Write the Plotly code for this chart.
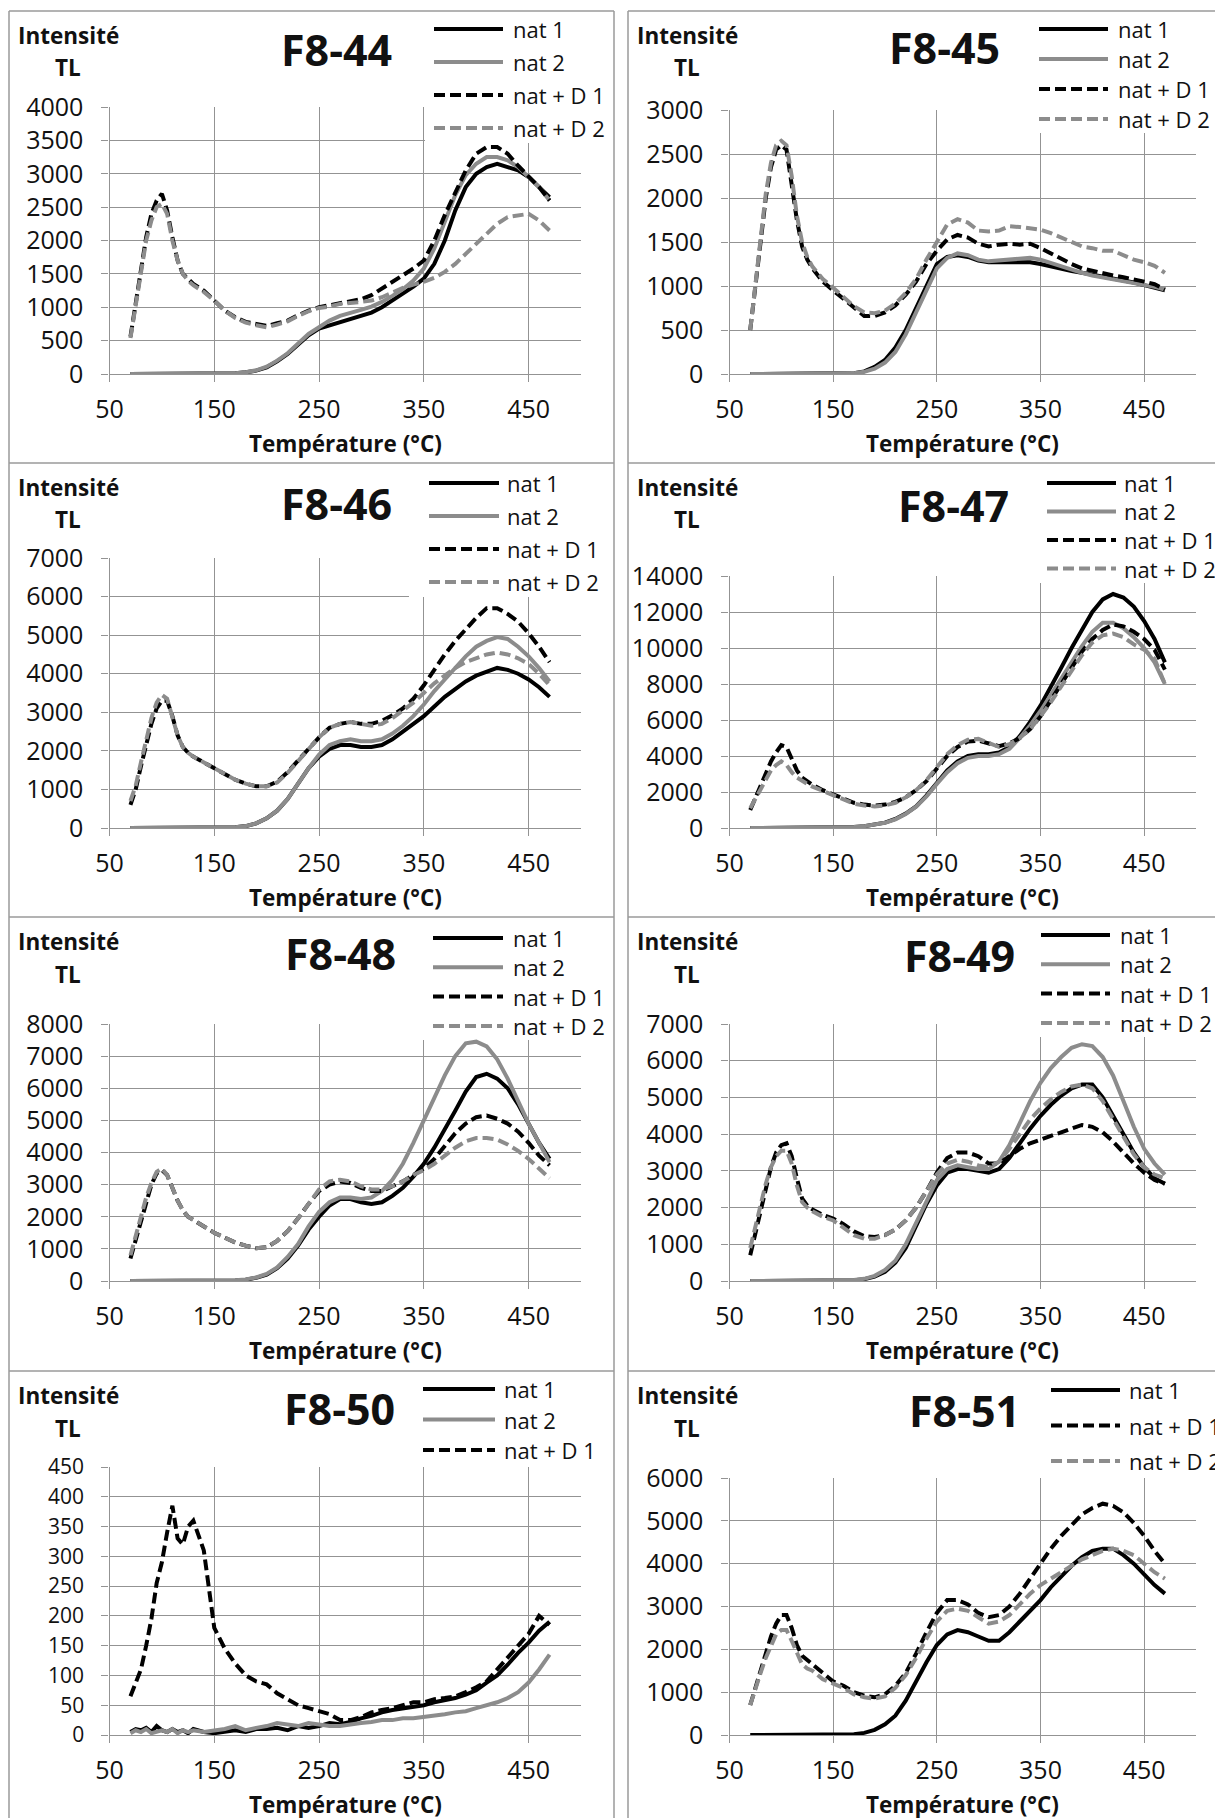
import plotly.graph_objects as go

# ---------------------------------------------------------------- data
TEMP = [70, 75, 80, 85, 90, 95, 100, 105, 110, 115, 120, 125, 130,
        140, 150, 160, 170, 180, 190, 200, 210, 220, 230, 240, 250,
        260, 270, 280, 290, 300, 310, 320, 330, 340, 350, 360, 370,
        380, 390, 400, 410, 420, 430, 440, 450, 460, 470]

SERIES_NAMES = ["nat 1", "nat 2", "nat + D 1", "nat + D 2"]
PANEL_TITLES = ["F8-44", "F8-45", "F8-46", "F8-47", "F8-48", "F8-49", "F8-50", "F8-51"]
Y_MAX = [4000, 3000, 7000, 14000, 8000, 7000, 450, 6000]
Y_STEP = [500, 500, 1000, 2000, 1000, 1000, 50, 1000]
X_TICKS = [50, 150, 250, 350, 450]
Y_TITLE = ["Intensité", "TL"]
X_TITLE = "Température (°C)"

F8_44_NAT1 = [0, 0, 0, 0, 0, 0, 0, 0, 0, 0, 0, 0, 0, 0, 0, 5, 10, 25, 50, 100, 190, 300, 440, 580, 680,
              730, 780, 830, 870, 920, 1000, 1100, 1200, 1310, 1430, 1650, 2000, 2450, 2800, 3000, 3100,
              3150, 3100, 3050, 2950, 2800, 2650]
F8_44_NAT2 = [0, 0, 0, 0, 0, 0, 0, 0, 0, 0, 0, 0, 0, 0, 0, 0, 10, 25, 55, 110, 200, 310, 450, 600, 700,
              800, 870, 910, 960, 1010, 1080, 1170, 1270, 1400, 1580, 1880, 2280, 2680, 2980, 3150, 3250,
              3250, 3200, 3100, 2950, 2800, 2600]
F8_44_D1 = [560, 1050, 1550, 2050, 2400, 2600, 2700, 2450, 2050, 1700, 1500, 1420, 1350, 1250, 1100, 950,
            850, 780, 750, 720, 760, 800, 880, 950, 1000, 1030, 1070, 1100, 1120, 1180, 1280, 1380, 1480,
            1580, 1700, 2000, 2380, 2700, 3050, 3300, 3400, 3400, 3300, 3120, 2950, 2800, 2600]
F8_44_D2 = [540, 1000, 1500, 2000, 2300, 2500, 2550, 2400, 2000, 1700, 1500, 1400, 1330, 1230, 1100, 950,
            840, 770, 730, 700, 740, 790, 870, 940, 990, 1010, 1050, 1060, 1080, 1100, 1150, 1220, 1290,
            1340, 1380, 1440, 1530, 1650, 1800, 1950, 2100, 2250, 2350, 2380, 2400, 2300, 2150]

F8_45_NAT1 = [0, 0, 0, 0, 0, 0, 0, 0, 0, 0, 0, 0, 0, 0, 0, 0, 10, 30, 80, 160, 300, 500, 750, 1000, 1250,
              1330, 1350, 1330, 1290, 1270, 1270, 1280, 1280, 1270, 1250, 1220, 1200, 1170, 1150, 1130,
              1100, 1080, 1060, 1040, 1010, 980, 950]
F8_45_NAT2 = [0, 0, 0, 0, 0, 0, 0, 0, 0, 0, 0, 0, 0, 0, 0, 0, 10, 25, 60, 130, 250, 450, 700, 950, 1200,
              1320, 1370, 1350, 1300, 1280, 1290, 1300, 1310, 1320, 1300, 1260, 1220, 1180, 1150, 1120,
              1100, 1080, 1060, 1040, 1020, 990, 960]
F8_45_D1 = [500, 1000, 1500, 2000, 2350, 2550, 2600, 2550, 2150, 1750, 1450, 1300, 1200, 1050, 950, 850,
            750, 660, 660, 700, 780, 900, 1050, 1250, 1400, 1530, 1580, 1550, 1480, 1450, 1470, 1480,
            1470, 1480, 1430, 1370, 1300, 1250, 1200, 1170, 1150, 1120, 1100, 1080, 1050, 1020, 960]
F8_45_D2 = [500, 1000, 1550, 2050, 2400, 2600, 2650, 2600, 2250, 1800, 1500, 1330, 1220, 1080, 980, 870,
            770, 700, 690, 720, 800, 920, 1080, 1300, 1500, 1700, 1760, 1720, 1630, 1620, 1630, 1680,
            1670, 1660, 1640, 1600, 1550, 1500, 1450, 1430, 1400, 1400, 1350, 1300, 1270, 1230, 1150]

F8_46_NAT1 = [0, 0, 0, 0, 0, 0, 0, 0, 0, 0, 0, 0, 0, 0, 0, 0, 20, 50, 120, 250, 450, 750, 1150, 1550,
              1850, 2050, 2150, 2150, 2100, 2100, 2150, 2300, 2500, 2700, 2900, 3150, 3400, 3600, 3800,
              3950, 4050, 4150, 4100, 4000, 3850, 3650, 3400]
F8_46_NAT2 = [0, 0, 0, 0, 0, 0, 0, 0, 0, 0, 0, 0, 0, 0, 0, 0, 20, 50, 120, 250, 450, 750, 1150, 1550,
              1900, 2150, 2250, 2300, 2250, 2250, 2300, 2450, 2650, 2900, 3200, 3550, 3850, 4150, 4450,
              4700, 4850, 4950, 4900, 4700, 4450, 4150, 3800]
F8_46_D1 = [600, 1000, 1600, 2200, 2700, 3100, 3300, 3300, 2900, 2400, 2100, 1950, 1850, 1700, 1550, 1400,
            1250, 1150, 1080, 1080, 1200, 1450, 1750, 2050, 2350, 2600, 2700, 2750, 2700, 2700, 2780,
            2920, 3100, 3350, 3700, 4100, 4500, 4850, 5150, 5450, 5700, 5700, 5550, 5350, 5050, 4700, 4300]
F8_46_D2 = [700, 1100, 1700, 2300, 2850, 3250, 3450, 3350, 2900, 2400, 2100, 1950, 1850, 1700, 1550, 1400,
            1250, 1150, 1080, 1080, 1180, 1430, 1730, 2050, 2350, 2600, 2700, 2750, 2700, 2650, 2700,
            2850, 3050, 3250, 3500, 3750, 3950, 4150, 4300, 4400, 4500, 4550, 4500, 4400, 4250, 4000, 3700]

F8_47_NAT1 = [0, 0, 0, 0, 0, 0, 0, 0, 0, 0, 0, 0, 0, 0, 0, 20, 50, 100, 200, 300, 500, 800, 1200, 1800,
              2500, 3200, 3700, 4000, 4100, 4100, 4200, 4500, 5100, 5900, 6800, 7800, 8900, 10000, 11000,
              12000, 12700, 13000, 12800, 12300, 11500, 10500, 9200]
F8_47_NAT2 = [0, 0, 0, 0, 0, 0, 0, 0, 0, 0, 0, 0, 0, 0, 0, 20, 50, 100, 190, 290, 480, 780, 1180, 1750,
              2450, 3100, 3600, 3900, 4000, 4000, 4100, 4400, 5000, 5700, 6500, 7400, 8400, 9300, 10100,
              10900, 11400, 11400, 11100, 10600, 10000, 9200, 8000]
F8_47_D1 = [1000, 1700, 2400, 3100, 3700, 4200, 4600, 4500, 3900, 3200, 2800, 2600, 2400, 2100, 1850, 1600,
            1400, 1300, 1250, 1300, 1450, 1700, 2100, 2600, 3300, 4000, 4500, 4800, 4850, 4700, 4550, 4700,
            5000, 5500, 6200, 7100, 8000, 9000, 9800, 10500, 11000, 11300, 11200, 10900, 10500, 9900, 8800]
F8_47_D2 = [1100, 1600, 2200, 2700, 3200, 3500, 3700, 3500, 3100, 2800, 2600, 2450, 2300, 2050, 1800, 1550,
            1350, 1250, 1200, 1250, 1400, 1700, 2100, 2650, 3400, 4100, 4600, 4900, 4950, 4700, 4500, 4650,
            5000, 5500, 6200, 7000, 7900, 8800, 9600, 10300, 10700, 10800, 10600, 10200, 9900, 9400, 8000]

F8_48_NAT1 = [0, 0, 0, 0, 0, 0, 0, 0, 0, 0, 0, 0, 0, 0, 0, 0, 15, 40, 100, 200, 400, 700, 1100, 1600,
              2000, 2350, 2550, 2550, 2450, 2400, 2450, 2650, 2900, 3250, 3650, 4150, 4700, 5300, 5900,
              6350, 6450, 6300, 6000, 5500, 4900, 4300, 3800]
F8_48_NAT2 = [0, 0, 0, 0, 0, 0, 0, 0, 0, 0, 0, 0, 0, 0, 0, 0, 20, 50, 110, 220, 420, 750, 1150, 1700,
              2150, 2450, 2600, 2600, 2550, 2600, 2800, 3150, 3650, 4300, 5000, 5700, 6400, 7000, 7400,
              7450, 7300, 6900, 6300, 5600, 4900, 4300, 3700]
F8_48_D1 = [700, 1300, 1900, 2500, 3000, 3350, 3450, 3300, 2900, 2500, 2200, 2000, 1900, 1700, 1500, 1350,
            1200, 1100, 1020, 1050, 1250, 1550, 1950, 2400, 2800, 3000, 3100, 3050, 2900, 2800, 2800, 2950,
            3100, 3300, 3500, 3800, 4200, 4600, 4900, 5100, 5150, 5050, 4900, 4650, 4300, 3900, 3600]
F8_48_D2 = [800, 1400, 2000, 2600, 3050, 3400, 3500, 3300, 2900, 2500, 2200, 2000, 1900, 1700, 1500, 1350,
            1200, 1100, 1020, 1050, 1250, 1550, 1950, 2400, 2850, 3100, 3150, 3100, 2950, 2850, 2850, 2950,
            3100, 3300, 3450, 3650, 3900, 4150, 4350, 4450, 4450, 4400, 4250, 4050, 3800, 3500, 3200]

F8_49_NAT1 = [0, 0, 0, 0, 0, 0, 0, 0, 0, 0, 0, 0, 0, 0, 0, 0, 20, 50, 120, 250, 500, 900, 1500, 2100,
              2600, 2950, 3050, 3050, 3000, 2950, 3050, 3350, 3750, 4150, 4500, 4800, 5050, 5250, 5350,
              5350, 5000, 4500, 4000, 3500, 3100, 2800, 2650]
F8_49_NAT2 = [0, 0, 0, 0, 0, 0, 0, 0, 0, 0, 0, 0, 0, 0, 0, 0, 25, 60, 140, 300, 550, 1000, 1600, 2200,
              2750, 3050, 3150, 3100, 3050, 3050, 3250, 3700, 4300, 4900, 5400, 5800, 6100, 6350, 6450,
              6400, 6100, 5600, 4900, 4200, 3600, 3200, 2900]
F8_49_D1 = [700, 1300, 1950, 2600, 3100, 3500, 3700, 3750, 3400, 2800, 2250, 2050, 1950, 1800, 1700, 1550,
            1350, 1220, 1200, 1250, 1400, 1650, 2000, 2450, 2950, 3350, 3500, 3500, 3400, 3200, 3200, 3400,
            3600, 3750, 3850, 3950, 4050, 4150, 4250, 4200, 4050, 3800, 3500, 3200, 2950, 2750, 2650]
F8_49_D2 = [900, 1500, 2100, 2650, 3100, 3400, 3550, 3550, 3200, 2600, 2150, 2000, 1900, 1750, 1650, 1450,
            1250, 1150, 1150, 1250, 1400, 1650, 2000, 2450, 2900, 3200, 3300, 3250, 3150, 3100, 3250, 3600,
            4000, 4400, 4700, 4950, 5150, 5300, 5350, 5250, 4900, 4400, 3900, 3450, 3100, 2900, 2800]

F8_50_NAT1 = [5, 10, 8, 12, 5, 15, 8, 5, 10, 5, 8, 3, 10, 5, 3, 5, 8, 5, 10, 10, 12, 8, 15, 12, 15,
              20, 18, 22, 28, 32, 38, 42, 45, 48, 50, 55, 58, 62, 68, 75, 88, 100, 118, 138, 155, 175, 190]
F8_50_NAT2 = [3, 8, 5, 10, 3, 5, 8, 5, 10, 3, 8, 5, 8, 5, 8, 10, 15, 8, 12, 15, 20, 18, 15, 20, 18,
              15, 15, 18, 20, 22, 25, 25, 28, 28, 30, 32, 35, 38, 40, 45, 50, 55, 62, 72, 88, 110, 135]
F8_50_D1 = [65, 90, 110, 150, 195, 255, 290, 340, 385, 330, 320, 350, 360, 310, 180, 145, 120, 100, 90,
            85, 70, 60, 50, 45, 40, 35, 25, 25, 30, 38, 42, 45, 50, 55, 55, 60, 62, 65, 72, 80, 90, 110,
            130, 150, 170, 200, 185]

F8_51_NAT1 = [0, 0, 0, 0, 0, 0, 0, 0, 0, 0, 0, 0, 0, 0, 0, 0, 20, 50, 120, 250, 450, 800, 1250, 1700,
              2100, 2350, 2450, 2400, 2300, 2200, 2200, 2400, 2650, 2900, 3150, 3450, 3700, 3950, 4150,
              4300, 4350, 4350, 4200, 4000, 3750, 3500, 3300]
F8_51_D1 = [700, 1100, 1500, 1900, 2300, 2600, 2800, 2800, 2500, 2100, 1850, 1750, 1650, 1450, 1250, 1150,
            1000, 920, 880, 950, 1150, 1450, 1900, 2400, 2850, 3150, 3150, 3050, 2850, 2750, 2800, 3000,
            3300, 3650, 4000, 4350, 4650, 4900, 5150, 5300, 5400, 5350, 5200, 4950, 4650, 4300, 4000]
F8_51_D2 = [700, 1100, 1450, 1800, 2100, 2350, 2450, 2450, 2200, 1900, 1650, 1550, 1500, 1300, 1200, 1100,
            950, 880, 850, 900, 1100, 1400, 1800, 2250, 2650, 2900, 2950, 2900, 2750, 2600, 2650, 2800,
            3050, 3300, 3500, 3650, 3800, 3950, 4100, 4200, 4300, 4350, 4300, 4200, 4000, 3800, 3650]

PANEL_SERIES = [
    {"nat 1": F8_44_NAT1, "nat 2": F8_44_NAT2, "nat + D 1": F8_44_D1, "nat + D 2": F8_44_D2},
    {"nat 1": F8_45_NAT1, "nat 2": F8_45_NAT2, "nat + D 1": F8_45_D1, "nat + D 2": F8_45_D2},
    {"nat 1": F8_46_NAT1, "nat 2": F8_46_NAT2, "nat + D 1": F8_46_D1, "nat + D 2": F8_46_D2},
    {"nat 1": F8_47_NAT1, "nat 2": F8_47_NAT2, "nat + D 1": F8_47_D1, "nat + D 2": F8_47_D2},
    {"nat 1": F8_48_NAT1, "nat 2": F8_48_NAT2, "nat + D 1": F8_48_D1, "nat + D 2": F8_48_D2},
    {"nat 1": F8_49_NAT1, "nat 2": F8_49_NAT2, "nat + D 1": F8_49_D1, "nat + D 2": F8_49_D2},
    {"nat 1": F8_50_NAT1, "nat 2": F8_50_NAT2, "nat + D 1": F8_50_D1},
    {"nat 1": F8_51_NAT1, "nat + D 1": F8_51_D1, "nat + D 2": F8_51_D2},
]

# ---------------------------------------------------------------- style / layout
OFF = 8                      # page body margin of the html page
W, H = 1223, 1818
FONT = "Open Sans"
INK = "#111111"
BLACK = "#000000"
GREY = "#8c8c8c"
GRID = "#939393"
BORDER = "#9a9a9a"
DASH = "11px,5px"
LINE_W = 4
STYLE = {"nat 1": (BLACK, "solid"), "nat 2": (GREY, "solid"),
         "nat + D 1": (BLACK, DASH), "nat + D 2": (GREY, DASH)}
Y_TICK_SIZE = [25, 25, 25, 25, 25, 25, 21, 25]

# all positions below are pixels of the target page
ROW_TOP = [11, 463, 917, 1371]
PANEL_X = [(9, 614), (628, None)]
PLOT_X = [(109.5, 581.0), (729.5, 1196.0)]          # pixel of T=50 and T=500
PLOT_Y = [(107, 374), (110, 374), (558, 828), (576, 828),
          (1024, 1281), (1024, 1281), (1467, 1735), (1478, 1735)]
TITLE_POS = [(336, 50), (944, 48), (336, 503), (953, 505),
             (340, 953), (959, 955), (339, 1408), (964, 1410)]
# legend: line x0, line x1, text x, first row y, row spacing
LEGEND = [(434, 503, 511, 29, 33), (1039, 1108, 1116, 29, 30),
          (429, 499, 505, 483, 33), (1047, 1116, 1122, 483, 28.5),
          (433, 503, 511, 938, 29.3), (1041, 1110, 1118, 935, 29.3),
          (423, 495, 502, 1389, 30.5), (1051, 1120, 1127, 1390, 35.5)]
LEGEND_BOX = [(425, 143), (1016, 133), (409, 597), (1031, 583),
              (423, 1040), (1020, 1037), (420, 1462), (1039, 1478)]


def px(x):
    return (x - OFF) / W


def py(y):
    return 1 - (y - OFF) / H


def seg(x0, y0, x1, y1, color, width, dash="solid", layer="below"):
    return dict(type="line", xref="paper", yref="paper", x0=px(x0), x1=px(x1),
                y0=py(y0), y1=py(y1), layer=layer,
                line=dict(color=color, width=width, dash=dash))


fig = go.Figure()
shapes, annotations = [], []
layout_axes = {}

for i, title in enumerate(PANEL_TITLES):
    row, col = divmod(i, 2)
    n = "" if i == 0 else str(i + 1)
    xa, ya = "x" + n, "y" + n
    x0p, x1p = PLOT_X[col]
    topp, botp = PLOT_Y[i]

    for name, vals in PANEL_SERIES[i].items():
        color, dash = STYLE[name]
        fig.add_trace(go.Scatter(x=TEMP, y=vals, mode="lines", name=name,
                                 line=dict(color=color, width=LINE_W, dash=dash),
                                 xaxis=xa, yaxis=ya, showlegend=False))

    axis_common = dict(showgrid=True, gridcolor=GRID, gridwidth=1.3, showline=True,
                       linecolor=GRID, linewidth=1.3, ticks="outside", ticklen=7,
                       tickwidth=1.3, tickcolor=GRID, zeroline=False, automargin=False)
    layout_axes["xaxis" + n] = dict(axis_common, domain=[px(x0p), px(x1p)], range=[50, 500],
                                    tickmode="array", tickvals=X_TICKS,
                                    ticktext=[str(t) for t in X_TICKS],
                                    tickfont=dict(family=FONT, size=25, color=INK),
                                    anchor=ya, ticklabelstandoff=6)
    layout_axes["yaxis" + n] = dict(axis_common, domain=[py(botp), py(topp)],
                                    range=[0, Y_MAX[i]], tick0=0, dtick=Y_STEP[i],
                                    tickfont=dict(family=FONT, size=Y_TICK_SIZE[i], color=INK),
                                    tickformat="d", anchor=xa, ticklabelstandoff=13)

    # panel border (only the edges that lie inside the page)
    pl, pr = PANEL_X[col]
    top = ROW_TOP[row]
    bottom = ROW_TOP[row + 1] if row + 1 < len(ROW_TOP) else 1826
    right = pr if pr is not None else 1231
    shapes.append(seg(pl, top, right, top, BORDER, 1.5))
    shapes.append(seg(pl, top, pl, bottom, BORDER, 1.5))
    if pr is not None:
        shapes.append(seg(pr, top, pr, bottom, BORDER, 1.5))

    # white legend background over the gridlines (between grid and traces)
    bl, bb = LEGEND_BOX[i]
    shapes.append(dict(type="rect", xref=xa, yref=ya,
                       x0=50 + (bl - x0p) / (x1p - x0p) * 450, x1=500,
                       y0=(botp - bb) / (botp - topp) * Y_MAX[i], y1=Y_MAX[i],
                       fillcolor="white", line=dict(width=0), layer="between"))

    # legend entries
    lx0, lx1, tx, ly, sp = LEGEND[i]
    for k, name in enumerate(PANEL_SERIES[i].keys()):
        color, dash = STYLE[name]
        yy = ly + k * sp
        shapes.append(seg(lx0, yy, lx1, yy, color, 4, dash, "above"))
        annotations.append(dict(text=name, xref="paper", yref="paper", x=px(tx), y=py(yy),
                                xanchor="left", yanchor="middle", showarrow=False,
                                font=dict(family=FONT, size=22, color=INK)))

    # titles
    tx_, ty_ = TITLE_POS[i]
    annotations.append(dict(text="<b>" + title + "</b>", xref="paper", yref="paper",
                            x=px(tx_), y=py(ty_), xanchor="center", yanchor="middle",
                            showarrow=False, font=dict(family=FONT, size=43, color=INK)))
    for k, t in enumerate(Y_TITLE):
        annotations.append(dict(text="<b>" + t + "</b>", xref="paper", yref="paper",
                                x=px(pl + 59), y=py(top + 24 + 33 * k),
                                xanchor="center", yanchor="middle", showarrow=False,
                                font=dict(family=FONT, size=22.5, color=INK)))
    annotations.append(dict(text="<b>" + X_TITLE + "</b>", xref="paper", yref="paper",
                            x=px((x0p + x1p) / 2), y=py(botp + 69),
                            xanchor="center", yanchor="middle", showarrow=False,
                            font=dict(family=FONT, size=22.5, color=INK)))

fig.update_layout(width=W, height=H, margin=dict(l=0, r=0, t=0, b=0, pad=0, autoexpand=False),
                  paper_bgcolor="white", plot_bgcolor="white", showlegend=False,
                  shapes=shapes, annotations=annotations, **layout_axes)

fig.write_html("out.html")
